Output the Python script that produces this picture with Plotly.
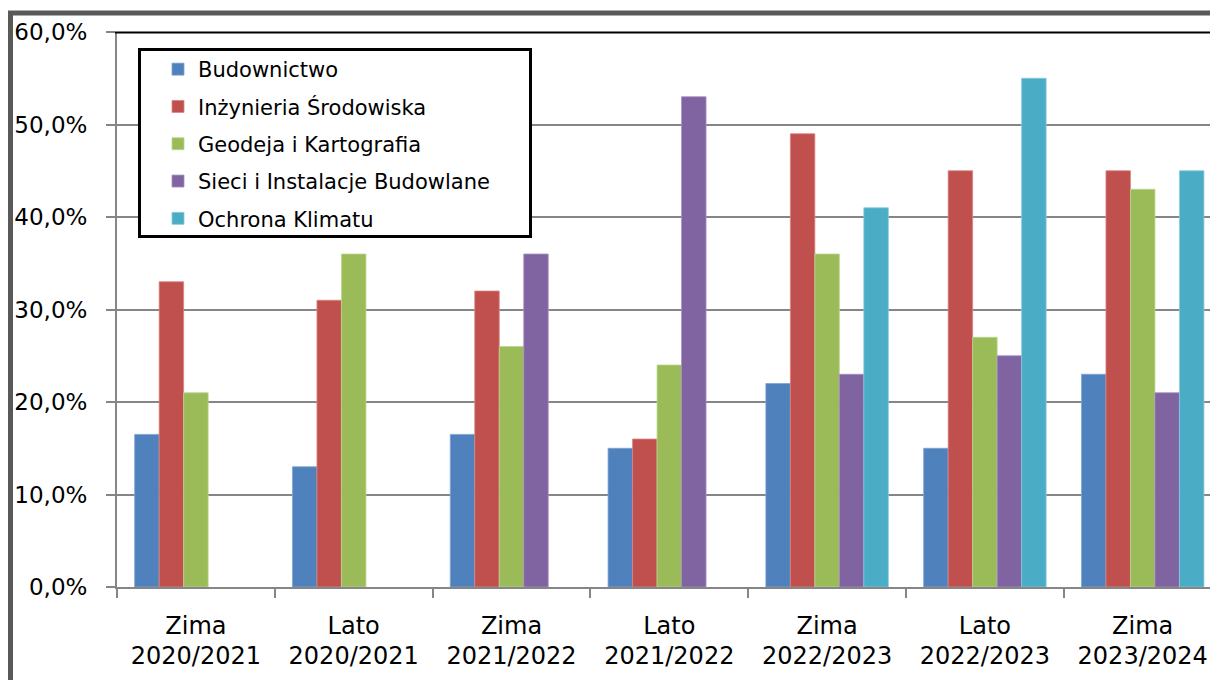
import plotly.graph_objects as go

categories = ["Zima 2020/2021", "Lato 2020/2021", "Zima 2021/2022", "Lato 2021/2022",
              "Zima 2022/2023", "Lato 2022/2023", "Zima 2023/2024"]
seasons = ["Zima", "Lato", "Zima", "Lato", "Zima", "Lato", "Zima"]
years = ["2020/2021", "2020/2021", "2021/2022", "2021/2022", "2022/2023", "2022/2023", "2023/2024"]

budownictwo = [16.5, 13.0, 16.5, 15.0, 22.0, 15.0, 23.0]
inz_srodowiska = [33.0, 31.0, 32.0, 16.0, 49.0, 45.0, 45.0]
geodeja = [21.0, 36.0, 26.0, 24.0, 36.0, 27.0, 43.0]
sieci = [None, None, 36.0, 53.0, 23.0, 25.0, 21.0]
ochrona = [None, None, None, None, 41.0, 55.0, 45.0]

series = [
    ("Budownictwo", budownictwo, "#4F81BD", "#7EA3D3"),
    ("Inżynieria Środowiska", inz_srodowiska, "#C0504D", "#D98583"),
    ("Geodeja i Kartografia", geodeja, "#9BBB59", "#BDD68E"),
    ("Sieci i Instalacje Budowlane", sieci, "#8064A2", "#A790C2"),
    ("Ochrona Klimatu", ochrona, "#4BACC6", "#86CBDD"),
]

xpos = list(range(len(categories)))
FONT = "DejaVu Sans"

fig = go.Figure()
for name, vals, col, edge in series:
    fig.add_trace(go.Bar(
        x=xpos, y=vals, name=name, legendgroup=name,
        marker=dict(color=col, line=dict(color=edge, width=0.8)),
        hoverinfo="skip",
    ))

# invisible trace to carry the second label row axis
fig.add_trace(go.Scatter(x=xpos, y=[None] * len(xpos), xaxis="x2", yaxis="y",
                         showlegend=False, hoverinfo="skip", mode="markers"))

W, H = 1210, 680
L, T, B, R = 117, 32, 93, 0
pw = W - L - R
ph = H - T - B

def px_x(x):
    return (x - L) / pw

def px_y(y):
    return (H - B - y) / ph

grid = "#868686"
xmax = -0.5 + (W - L) / 157.8

fig.update_layout(
    width=W, height=H,
    margin=dict(l=L, r=R, t=T, b=B),
    paper_bgcolor="white", plot_bgcolor="white",
    separators=", ",
    barmode="group", bargap=0.224, bargroupgap=0,
    font=dict(family=FONT, color="black", size=22),
    showlegend=True,
    legend=dict(
        x=px_x(158), y=px_y(49), xanchor="left", yanchor="top",
        bgcolor="rgba(0,0,0,0)", borderwidth=0,
        font=dict(family=FONT, size=21, color="black"),
        tracegroupgap=7,
        traceorder="grouped",
    ),
    xaxis=dict(
        range=[-0.5, xmax], tickmode="array", tickvals=xpos, ticktext=seasons,
        ticks="", showgrid=False, zeroline=False,
        showline=True, linecolor=grid, linewidth=2,
        tickfont=dict(family=FONT, size=24, color="black"),
        ticklabelstandoff=16,
        minor=dict(tickmode="array", tickvals=[i - 0.5 for i in xpos],
                   ticks="outside", ticklen=9, tickcolor=grid, tickwidth=2, showgrid=False),
    ),
    xaxis2=dict(
        overlaying="x", matches="x", anchor="free", position=0, side="bottom",
        tickmode="array", tickvals=xpos, ticktext=years, ticks="",
        showgrid=False, zeroline=False, showline=False,
        tickfont=dict(family=FONT, size=24, color="black"),
        ticklabelstandoff=52,
    ),
    yaxis=dict(
        range=[0, 60], dtick=10, tick0=0, tickformat=".1f", ticksuffix="%",
        showgrid=True, gridcolor=grid, gridwidth=2,
        zeroline=False, showline=True, linecolor=grid, linewidth=2,
        ticks="outside", ticklen=9, tickcolor=grid, tickwidth=2,
        tickfont=dict(family=FONT, size=23, color="black"),
        ticklabelstandoff=14,
    ),
    shapes=[
        # outer chart frame
        dict(type="rect", xref="paper", yref="paper",
             x0=px_x(10.5), x1=px_x(1260), y0=px_y(13), y1=px_y(760),
             line=dict(color="#595959", width=5), fillcolor="rgba(0,0,0,0)", layer="above"),
        # plot area top border
        dict(type="line", xref="paper", yref="paper",
             x0=px_x(115), x1=px_x(1260), y0=px_y(32.5), y1=px_y(32.5),
             line=dict(color="black", width=2), layer="above"),
        # legend box
        dict(type="rect", xref="paper", yref="paper",
             x0=px_x(139.5), x1=px_x(530.5), y0=px_y(49.5), y1=px_y(236.5),
             line=dict(color="black", width=3), fillcolor="white", layer="above"),
    ],
)

fig.write_html("out.html", config={"displayModeBar": False},
               post_script="document.body.style.margin='0';")
